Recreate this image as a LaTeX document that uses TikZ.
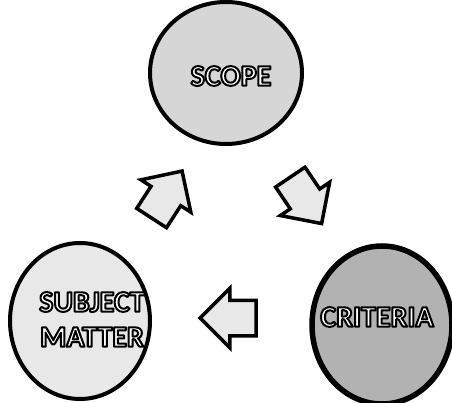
\documentclass[tikz,border=0pt]{standalone}
\usepackage{fontspec}
\setmainfont{Carlito}
\usetikzlibrary{shapes.geometric,shapes.arrows}
\tikzset{
  disc/.style={ellipse, draw=black, line width=4pt, inner sep=0pt},
  label/.style={font=\bfseries\fontsize{30}{34}\selectfont, align=center, inner sep=0pt},
  blockarrow/.style={single arrow, draw=black, line width=3.5pt, fill=gray!18,
    minimum height=56pt, inner sep=16pt, single arrow head extend=12pt, text width=0pt}
}
\newcommand{\wtext}[1]{{\color{white}\special{pdf:literal direct 2 Tr 2 w 1 j 0 G}#1\special{pdf:literal direct 0 Tr}}}
\begin{document}
\begin{tikzpicture}[x=1pt,y=-1pt]
\useasboundingbox[fill=white] (0,0) rectangle (452,403);
\node[disc, fill=gray!32, minimum width=152pt, minimum height=142pt] (scope) at (226,73) {};
\node[disc, fill=gray!18, minimum width=140pt, minimum height=156pt] (subject) at (80,321) {};
\node[disc, fill=gray!60, line width=5.5pt, minimum width=140pt, minimum height=158pt] (criteria) at (382,325) {};
\node[label] (tscope) at (231,76) {\wtext{SCOPE}};
\node[label] (tcrit) at (377,317) {\wtext{CRITERIA}};
\node[label] (tsubj1) at (92,302) {\wtext{SUBJECT}};
\node[label] (tsubj2) at (92,337) {\wtext{MATTER}};
\node[blockarrow, rotate=57] (a1) at (162,202) {};
\node[blockarrow, rotate=-56] (a2) at (301,193) {};
\node[blockarrow, rotate=180] (a3) at (237,318) {};
\end{tikzpicture}
\end{document}
